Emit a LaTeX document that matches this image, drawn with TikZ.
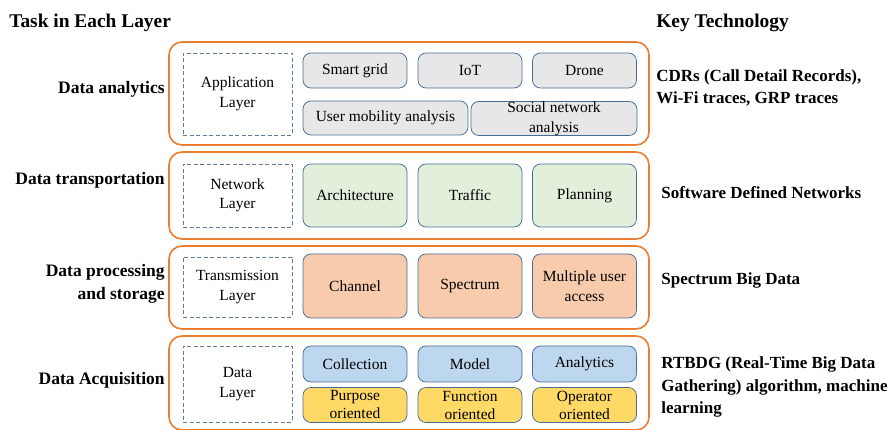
\documentclass[tikz,border=0pt]{standalone}
\usepackage{fontspec}
\setmainfont{Liberation Serif}
\usetikzlibrary{positioning}
\definecolor{layerorange}{RGB}{237,125,49}
\definecolor{edgeblue}{RGB}{71,108,150}
\definecolor{dashblue}{RGB}{96,122,152}
\definecolor{fillgrey}{RGB}{231,231,231}
\definecolor{fillgreen}{RGB}{226,239,218}
\definecolor{fillpeach}{RGB}{248,203,173}
\definecolor{fillblue}{RGB}{189,215,238}
\definecolor{fillyellow}{RGB}{255,217,102}
\tikzset{
  every picture/.style={line width=0.75pt},
  layerbox/.style={draw=layerorange, line width=1.6pt, rounded corners=13pt, inner sep=0pt},
  namebox/.style={draw=dashblue, dash pattern=on 4pt off 2.5pt, fill=white, inner sep=0pt, align=center,
    minimum width=109pt, font=\fontsize{15.5}{19.5}\selectfont},
  techbox/.style={draw=edgeblue, rounded corners=8pt, inner sep=0pt, align=center,
    minimum width=104pt, font=\fontsize{15.5}{20}\selectfont},
  tasklabel/.style={anchor=east, align=right, inner sep=0pt, font=\fontsize{17.5}{23}\selectfont\bfseries},
  keylabel/.style={anchor=west, align=left, inner sep=0pt, font=\fontsize{17}{22.5}\selectfont\bfseries},
  headlabel/.style={inner sep=0pt, font=\fontsize{19.4}{23}\selectfont\bfseries}
}
\begin{document}
\begin{tikzpicture}[x=1pt,y=1pt,yscale=-1,xscale=1]
\useasboundingbox (0,0) rectangle (895,430);

% headers
\node[headlabel, anchor=west] (taskhead) at (9,23) {Task in Each Layer};
\node[headlabel, anchor=west] (keyhead) at (656,23) {Key Technology};

% layer frames
\node[layerbox, minimum width=480pt, minimum height=103pt] (appframe) at (409,93.5) {};
\node[layerbox, minimum width=480pt, minimum height=87pt] (netframe) at (409,195.5) {};
\node[layerbox, minimum width=480pt, minimum height=83pt] (transframe) at (409,287.5) {};
\node[layerbox, minimum width=480pt, minimum height=94pt] (dataframe) at (409,383) {};

% application layer
\node[namebox, minimum height=82pt] (applayer) at (237.5,94) {Application\\Layer};
\node[techbox, fill=fillgrey, minimum height=35pt] (smartgrid) at (355,70.5) {Smart grid};
\node[techbox, fill=fillgrey, minimum height=35pt] (iot) at (470,70.5) {IoT};
\node[techbox, fill=fillgrey, minimum height=35pt] (drone) at (584.5,70.5) {Drone};
\node[techbox, fill=fillgrey, minimum height=34pt, minimum width=165pt] (mobility) at (385.5,118) {User mobility analysis};
\node[techbox, fill=fillgrey, minimum height=34pt, minimum width=166pt] (social) at (554,118.5) {Social network\\analysis};

% network layer
\node[namebox, minimum height=63pt] (netlayer) at (237.5,195.5) {Network\\Layer};
\node[techbox, fill=fillgreen, minimum height=63pt] (architecture) at (355,195.5) {Architecture};
\node[techbox, fill=fillgreen, minimum height=63pt] (traffic) at (470,195.5) {Traffic};
\node[techbox, fill=fillgreen, minimum height=63pt] (planning) at (584.5,195.5) {Planning};

% transmission layer
\node[namebox, minimum height=60pt] (translayer) at (237.5,287) {Transmission\\Layer};
\node[techbox, fill=fillpeach, minimum height=64pt] (channel) at (355,286) {Channel};
\node[techbox, fill=fillpeach, minimum height=64pt] (spectrum) at (470,286) {Spectrum};
\node[techbox, fill=fillpeach, minimum height=64pt] (access) at (584.5,286) {Multiple user\\access};

% data layer
\node[namebox, minimum height=76pt] (datalayer) at (237.5,384) {Data\\Layer};
\node[techbox, fill=fillblue, minimum height=36pt] (collection) at (355,364) {Collection};
\node[techbox, fill=fillblue, minimum height=36pt] (model) at (470,364) {Model};
\node[techbox, fill=fillblue, minimum height=36pt] (analytics) at (584.5,364) {Analytics};
\node[techbox, fill=fillyellow, minimum height=35pt, font=\fontsize{15.5}{18}\selectfont] (purpose) at (355,405) {Purpose\\oriented};
\node[techbox, fill=fillyellow, minimum height=35pt, font=\fontsize{15.5}{18}\selectfont] (function) at (470,405) {Function\\oriented};
\node[techbox, fill=fillyellow, minimum height=35pt, font=\fontsize{15.5}{18}\selectfont] (operator) at (584.5,405) {Operator\\oriented};

% tasks
\node[tasklabel] (analyticstask) at (165,89) {Data analytics};
\node[tasklabel] (transporttask) at (165,180) {Data transportation};
\node[tasklabel] (processtask) at (165,284) {Data processing\\and storage};
\node[tasklabel] (acquiretask) at (165,380) {Data Acquisition};

% key technologies
\node[keylabel] (cdrtech) at (656,88) {CDRs (Call Detail Records),\\Wi-Fi traces, GRP traces};
\node[keylabel] (sdntech) at (661,193) {Software Defined Networks};
\node[keylabel] (spectech) at (661,280) {Spectrum Big Data};
\node[keylabel] (rtbdgtech) at (661,387) {RTBDG (Real-Time Big Data\\Gathering) algorithm, machine\\learning};
\end{tikzpicture}
\end{document}
